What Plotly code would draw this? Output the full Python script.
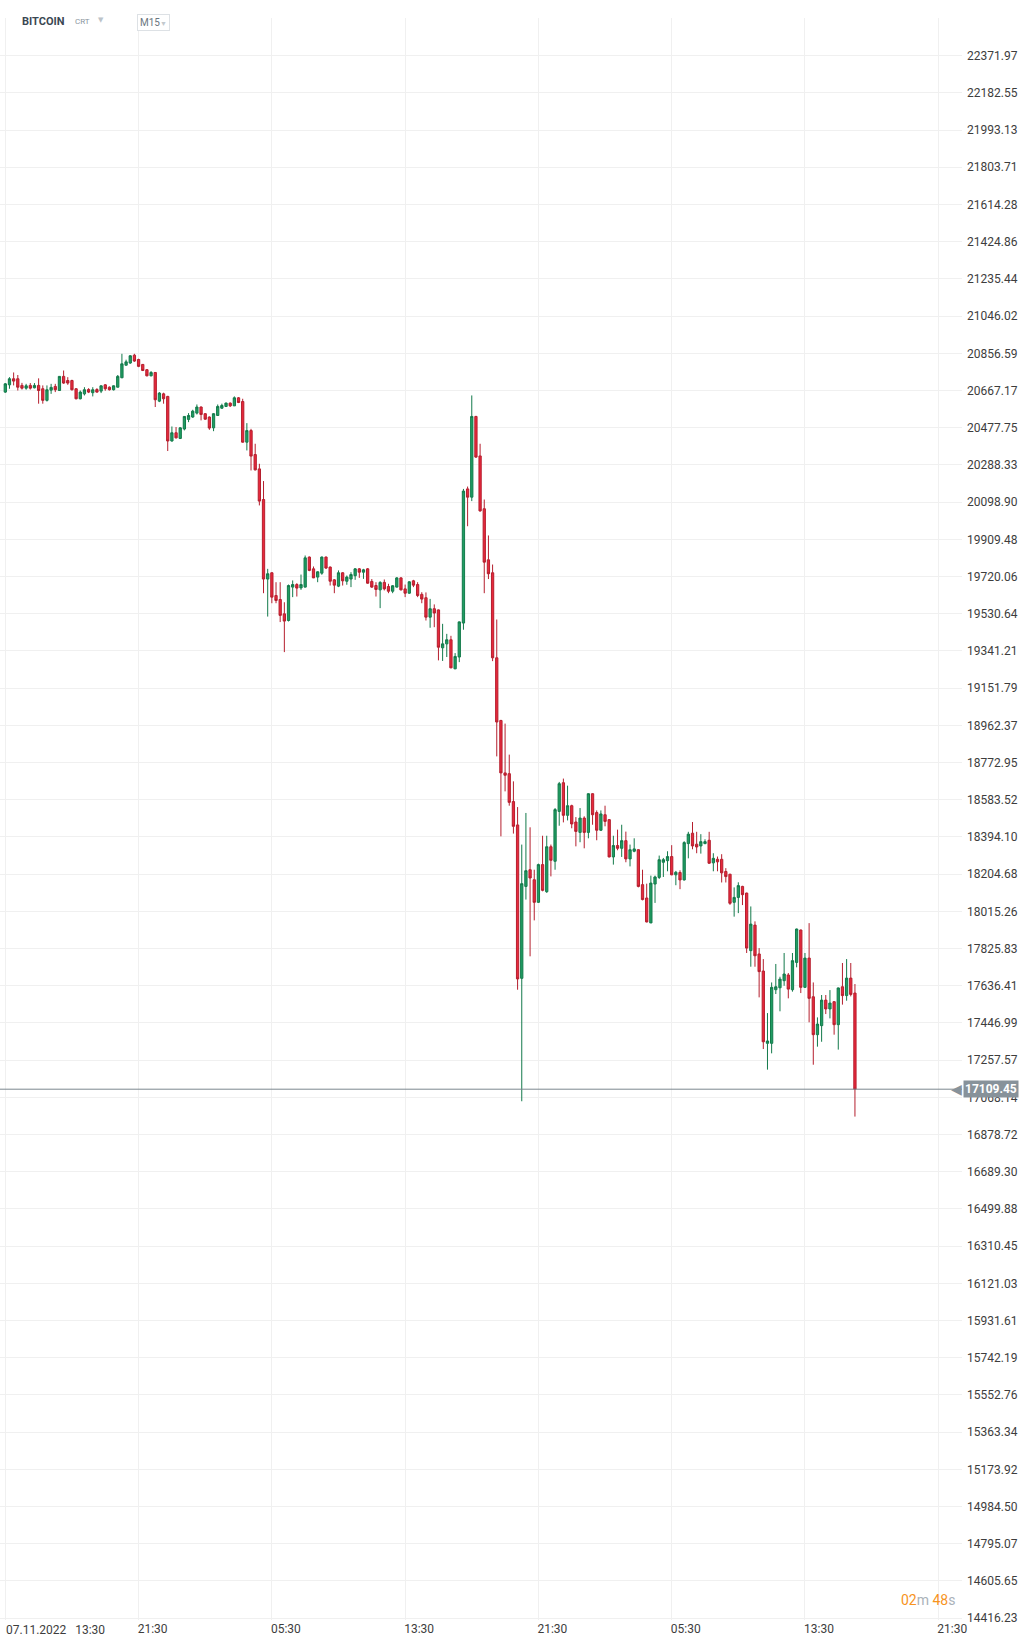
import plotly.graph_objects as go
import pandas as pd

# ---------------- data (M15 BITCOIN) ----------------
start_time = "2022-11-07 13:30"

opens = [20659, 20696, 20727, 20727, 20693, 20679, 20693, 20681, 20693, 20676,
         20617, 20669, 20688, 20667, 20739, 20718, 20718, 20676, 20625, 20650,
         20672, 20656, 20672, 20664, 20696, 20684, 20671, 20684, 20732, 20796,
         20807, 20847, 20825, 20800, 20773, 20742, 20759, 20613, 20650, 20637,
         20410, 20452, 20423, 20471, 20520, 20532, 20552, 20583, 20549, 20532,
         20477, 20540, 20577, 20586, 20603, 20589, 20630, 20611, 20404, 20463,
         20341, 20268, 20112, 19707, 19739, 19623, 19603, 19530, 19496, 19666,
         19679, 19662, 19666, 19819, 19759, 19717, 19737, 19819, 19768, 19703,
         19671, 19739, 19696, 19707, 19724, 19759, 19742, 19759, 19695, 19674,
         19652, 19690, 19669, 19645, 19666, 19713, 19657, 19635, 19698, 19679,
         19629, 19612, 19513, 19556, 19550, 19357, 19377, 19398, 19250, 19310,
         19483, 20166, 20124, 20535, 20334, 20065, 19805, 19739, 19306, 18987,
         18720, 18716, 18574, 18455, 17674, 18142, 18227, 18176, 18061, 18253,
         18115, 18344, 18270, 18524, 18670, 18504, 18553, 18470, 18417, 18490,
         18417, 18614, 18518, 18428, 18507, 18482, 18292, 18350, 18336, 18375,
         18282, 18321, 18329, 18151, 18083, 17956, 18154, 18188, 18265, 18273,
         18294, 18201, 18213, 18175, 18360, 18413, 18357, 18348, 18360, 18377,
         18262, 18280, 18280, 18218, 18204, 18061, 18086, 18142, 18108, 17815,
         17945, 17798, 17711, 17343, 17343, 17616, 17626, 17662, 17691, 17616,
         17755, 17920, 17628, 17777, 17580, 17387, 17433, 17563, 17518, 17555,
         17438, 17631, 17586, 17675, 17599]

highs = [20705, 20735, 20759, 20746, 20706, 20701, 20705, 20705, 20729, 20693,
         20693, 20701, 20701, 20741, 20769, 20735, 20722, 20679, 20667, 20684,
         20679, 20684, 20679, 20693, 20700, 20688, 20693, 20746, 20854, 20824,
         20847, 20854, 20829, 20802, 20776, 20766, 20761, 20659, 20656, 20640,
         20484, 20481, 20481, 20537, 20552, 20569, 20596, 20586, 20552, 20535,
         20552, 20596, 20600, 20606, 20606, 20637, 20634, 20625, 20501, 20472,
         20396, 20294, 20206, 19759, 19741, 19691, 19691, 19589, 19679, 19700,
         19686, 19730, 19827, 19822, 19771, 19747, 19822, 19822, 19771, 19707,
         19751, 19742, 19725, 19742, 19763, 19763, 19759, 19763, 19707, 19691,
         19696, 19705, 19683, 19676, 19717, 19717, 19679, 19696, 19703, 19691,
         19640, 19639, 19606, 19578, 19552, 19479, 19428, 19418, 19330, 19491,
         20166, 20178, 20642, 20538, 20396, 20112, 19929, 19781, 19501, 18990,
         18971, 18813, 18677, 18546, 18355, 18516, 18443, 18227, 18258, 18400,
         18400, 18355, 18541, 18674, 18691, 18655, 18558, 18495, 18541, 18499,
         18616, 18616, 18529, 18529, 18553, 18485, 18400, 18431, 18456, 18421,
         18355, 18387, 18331, 18227, 18156, 18197, 18197, 18299, 18287, 18321,
         18352, 18221, 18224, 18372, 18420, 18470, 18420, 18408, 18382, 18420,
         18311, 18294, 18306, 18235, 18206, 18137, 18163, 18145, 18110, 18040,
         17964, 17828, 17772, 17497, 17653, 17747, 17682, 17803, 17701, 17803,
         17927, 17922, 17803, 17955, 17653, 17475, 17589, 17589, 17614, 17558,
         17627, 17752, 17772, 17752, 17645]

lows = [20655, 20676, 20693, 20667, 20672, 20671, 20672, 20678, 20600, 20600,
        20611, 20650, 20659, 20665, 20701, 20696, 20667, 20622, 20622, 20642,
        20654, 20637, 20656, 20654, 20666, 20667, 20667, 20683, 20730, 20794,
        20803, 20813, 20786, 20766, 20739, 20739, 20583, 20608, 20600, 20359,
        20407, 20423, 20420, 20464, 20506, 20528, 20545, 20515, 20518, 20467,
        20460, 20538, 20574, 20583, 20583, 20588, 20603, 20402, 20362, 20260,
        20260, 20082, 19635, 19516, 19584, 19584, 19488, 19335, 19491, 19615,
        19618, 19652, 19664, 19747, 19712, 19691, 19729, 19758, 19674, 19635,
        19666, 19674, 19678, 19666, 19703, 19713, 19708, 19683, 19662, 19618,
        19559, 19649, 19635, 19635, 19664, 19649, 19615, 19632, 19666, 19615,
        19584, 19496, 19459, 19462, 19293, 19290, 19310, 19253, 19248, 19284,
        19449, 19976, 20104, 20324, 20050, 19635, 19707, 19289, 18804, 18397,
        18626, 18553, 18411, 17616, 17048, 18075, 17786, 17969, 18058, 18117,
        18109, 18193, 18227, 18451, 18468, 18478, 18438, 18346, 18367, 18336,
        18387, 18456, 18377, 18424, 18448, 18290, 18253, 18326, 18292, 18265,
        18244, 18316, 18137, 18071, 17959, 17956, 18058, 18180, 18190, 18219,
        18199, 18148, 18128, 18172, 18285, 18331, 18311, 18309, 18357, 18257,
        18219, 18219, 18162, 18162, 18048, 17988, 18006, 18047, 17803, 17733,
        17733, 17577, 17314, 17209, 17292, 17594, 17506, 17636, 17572, 17606,
        17730, 17599, 17626, 17450, 17234, 17326, 17351, 17492, 17470, 17387,
        17311, 17540, 17560, 17582, 16970]

closes = [20701, 20727, 20715, 20684, 20679, 20691, 20679, 20693, 20667, 20617,
          20671, 20683, 20671, 20739, 20705, 20705, 20671, 20625, 20659, 20671,
          20659, 20671, 20659, 20691, 20676, 20671, 20691, 20739, 20803, 20813,
          20844, 20817, 20790, 20769, 20742, 20759, 20620, 20654, 20625, 20410,
          20452, 20426, 20477, 20535, 20540, 20562, 20583, 20545, 20521, 20476,
          20549, 20586, 20591, 20603, 20589, 20630, 20606, 20404, 20463, 20333,
          20263, 20104, 19707, 19734, 19615, 19598, 19522, 19493, 19674, 19679,
          19661, 19679, 19815, 19751, 19713, 19744, 19819, 19763, 19696, 19676,
          19739, 19698, 19717, 19730, 19759, 19742, 19754, 19686, 19666, 19654,
          19690, 19657, 19645, 19673, 19713, 19652, 19635, 19693, 19676, 19623,
          19605, 19513, 19556, 19534, 19360, 19377, 19398, 19255, 19313, 19489,
          20155, 20124, 20535, 20328, 20054, 19793, 19734, 19306, 18979, 18720,
          18708, 18570, 18448, 17671, 18156, 18222, 18185, 18061, 18253, 18122,
          18344, 18275, 18533, 18665, 18504, 18553, 18460, 18422, 18490, 18417,
          18614, 18507, 18428, 18511, 18473, 18292, 18350, 18336, 18375, 18282,
          18329, 18333, 18142, 18075, 17961, 18159, 18190, 18278, 18278, 18294,
          18201, 18214, 18175, 18365, 18408, 18348, 18343, 18370, 18370, 18260,
          18285, 18267, 18211, 18192, 18056, 18086, 18146, 18100, 17828, 17950,
          17789, 17708, 17351, 17355, 17628, 17631, 17670, 17696, 17619, 17764,
          17925, 17628, 17777, 17572, 17387, 17441, 17563, 17518, 17548, 17438,
          17625, 17586, 17675, 17592, 17109.45]

current_price = 17109.45

y_tick_values = [22371.97, 22182.55, 21993.13, 21803.71, 21614.28, 21424.86,
                 21235.44, 21046.02, 20856.59, 20667.17, 20477.75, 20288.33,
                 20098.90, 19909.48, 19720.06, 19530.64, 19341.21, 19151.79,
                 18962.37, 18772.95, 18583.52, 18394.10, 18204.68, 18015.26,
                 17825.83, 17636.41, 17446.99, 17257.57, 17068.14, 16878.72,
                 16689.30, 16499.88, 16310.45, 16121.03, 15931.61, 15742.19,
                 15552.76, 15363.34, 15173.92, 14984.50, 14795.07, 14605.65,
                 14416.23]

x_tick_values = ["2022-11-07 13:30", "2022-11-07 21:30", "2022-11-08 05:30",
                 "2022-11-08 13:30", "2022-11-08 21:30", "2022-11-09 05:30",
                 "2022-11-09 13:30", "2022-11-09 21:30"]
x_tick_text = ["", "21:30", "05:30", "13:30", "21:30", "05:30", "13:30", "21:30"]
first_label = "07.11.2022\u00a0\u00a0\u00a013:30"

symbol = "BITCOIN"
symbol_tag = "CRT"
timeframe = "M15"
timer_min, timer_sec = "02", "48"

# ---------------- styling ----------------
W, H = 1026, 1645
ML, MR, MT, MB = 0, 64, 18, 25
PW, PH = W - ML - MR, H - MT - MB

GREEN_FILL, GREEN_LINE = "#1f9d62", "#137a4b"
RED_FILL, RED_LINE = "#e8283c", "#b51f2e"
GRID = "#f0f0f0"
TXT = "#3d3d3d"
FONT = "Roboto"
PRICE_GRAY = "#87929a"


def px(x):
    return (x - ML) / PW


def py(y):
    return (H - MB - y) / PH


times = pd.date_range(start_time, periods=len(opens), freq="15min")

fig = go.Figure(go.Candlestick(
    x=times, open=opens, high=highs, low=lows, close=closes,
    increasing=dict(fillcolor=GREEN_FILL, line=dict(color=GREEN_LINE, width=1)),
    decreasing=dict(fillcolor=RED_FILL, line=dict(color=RED_LINE, width=1)),
    whiskerwidth=0, hoverinfo="skip", showlegend=False,
))

fig.update_layout(
    width=W, height=H, autosize=False,
    margin=dict(l=ML, r=MR, t=MT, b=MB, pad=0),
    paper_bgcolor="white", plot_bgcolor="white",
    font=dict(family=FONT, size=12, color=TXT),
    hovermode=False, boxgap=0.22,
    xaxis=dict(
        type="date", rangeslider=dict(visible=False),
        range=["2022-11-07 13:10:54", "2022-11-09 22:55:36"],
        tickmode="array", tickvals=x_tick_values, ticktext=x_tick_text,
        showgrid=True, gridcolor=GRID, gridwidth=1, zeroline=False,
        showline=False, ticks="", ticklabelshift=14, ticklabelstandoff=0,
        tickfont=dict(family=FONT, size=12, color=TXT),
    ),
    yaxis=dict(
        side="right", range=[14406.6, 22563.9],
        tickmode="array", tickvals=y_tick_values,
        ticktext=[f"{v:.2f}" for v in y_tick_values],
        showgrid=True, gridcolor=GRID, gridwidth=1, zeroline=False,
        showline=False, ticks="", ticklabelstandoff=4,
        tickfont=dict(family=FONT, size=12, color=TXT),
    ),
)

# current price line
fig.add_shape(type="line", xref="paper", x0=0, x1=1, yref="y",
              y0=current_price, y1=current_price,
              line=dict(color="#7c878e", width=1), layer="above")

annotations = [
    # first x label
    dict(x=x_tick_values[0], xref="x", y=0, yref="paper", yanchor="top",
         xanchor="left", xshift=-1, yshift=-1, text=first_label, showarrow=False,
         font=dict(family=FONT, size=12, color=TXT)),
    # price tag
    dict(x=1, xref="paper", y=current_price, yref="y", xanchor="left",
         yanchor="middle", xshift=1, text=f"<b>{current_price:.2f}</b>",
         showarrow=False, bgcolor=PRICE_GRAY, borderpad=1,
         font=dict(family=FONT, size=12, color="white")),
    dict(x=1, xref="paper", y=current_price, yref="y", xanchor="right",
         yanchor="middle", xshift=2, text="\u25C0", showarrow=False,
         font=dict(family="DejaVu Sans", size=14, color=PRICE_GRAY)),
    # header
    dict(x=px(20), xref="paper", y=py(21), yref="paper", xanchor="left",
         yanchor="middle", text=f"<b>{symbol}</b>", showarrow=False,
         bgcolor="white", font=dict(family=FONT, size=11, color="#3a4753")),
    dict(x=px(73), xref="paper", y=py(21), yref="paper", xanchor="left",
         yanchor="middle", text=symbol_tag, showarrow=False,
         font=dict(family=FONT, size=8, color="#8c96a0")),
    dict(x=px(96), xref="paper", y=py(20), yref="paper", xanchor="left",
         yanchor="middle", text="\u25BC", showarrow=False,
         font=dict(family="DejaVu Sans", size=7, color="#bcc3c9")),
    dict(x=px(137), xref="paper", y=py(22), yref="paper", xanchor="left",
         yanchor="middle",
         text=f"{timeframe}<span style='font-size:7px;color:#c3c9ce'>\u25BC</span>",
         showarrow=False, bgcolor="white", bordercolor="#dde1e5", borderwidth=1,
         borderpad=2, font=dict(family=FONT, size=10, color="#6b7680")),
    # candle timer
    dict(x=px(957), xref="paper", y=py(1600), yref="paper", xanchor="right",
         yanchor="middle",
         text=(f"<span style='color:#f7941d'>{timer_min}</span>m "
               f"<span style='color:#f7941d'>{timer_sec}</span>s"),
         showarrow=False, font=dict(family=FONT, size=14, color="#aab2b9")),
]
fig.update_layout(annotations=annotations)

fig.write_html("out.html", config={"displayModeBar": False},
               post_script="document.body.style.margin='0';")
